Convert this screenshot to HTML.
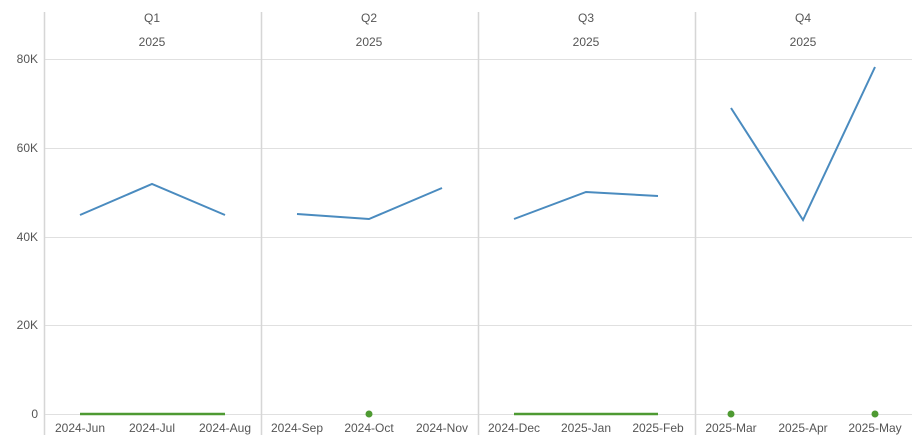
<!DOCTYPE html>
<html><head><style>body{margin:0;background:#fff}svg{display:block;font-family:"Liberation Sans","DejaVu Sans",sans-serif}</style></head>
<body>
<svg width="924" height="444" viewBox="0 0 924 444">
<g stroke="#e0e0e0" stroke-width="1">
<line x1="44" x2="912" y1="59.5" y2="59.5"/>
<line x1="44" x2="912" y1="148.5" y2="148.5"/>
<line x1="44" x2="912" y1="237.5" y2="237.5"/>
<line x1="44" x2="912" y1="325.5" y2="325.5"/>
<line x1="44" x2="912" y1="414.5" y2="414.5"/>
</g>
<g stroke="#d6d6d6" stroke-width="1.5">
<line x1="44.5" x2="44.5" y1="12" y2="435"/>
<line x1="261.5" x2="261.5" y1="12" y2="435"/>
<line x1="478.5" x2="478.5" y1="12" y2="435"/>
<line x1="695.5" x2="695.5" y1="12" y2="435"/>
</g>
<g font-size="12" fill="#555" text-anchor="end">
<text x="38" y="63">80K</text><text x="38" y="152">60K</text><text x="38" y="241">40K</text><text x="38" y="329">20K</text><text x="38" y="418">0</text>
</g>
<g font-size="12" fill="#555" text-anchor="middle">
<text x="152" y="22">Q1</text><text x="152" y="46">2025</text>
<text x="369" y="22">Q2</text><text x="369" y="46">2025</text>
<text x="586" y="22">Q3</text><text x="586" y="46">2025</text>
<text x="803" y="22">Q4</text><text x="803" y="46">2025</text>
<text x="80" y="432">2024-Jun</text><text x="152" y="432">2024-Jul</text><text x="225" y="432">2024-Aug</text>
<text x="297" y="432">2024-Sep</text><text x="369" y="432">2024-Oct</text><text x="442" y="432">2024-Nov</text>
<text x="514" y="432">2024-Dec</text><text x="586" y="432">2025-Jan</text><text x="658" y="432">2025-Feb</text>
<text x="731" y="432">2025-Mar</text><text x="803" y="432">2025-Apr</text><text x="875" y="432">2025-May</text>
</g>
<g fill="none" stroke="#4a8bbf" stroke-width="2">
<polyline points="80,215 152,184 225,215"/>
<polyline points="297,214 369,219 442,188"/>
<polyline points="514,219 586,192 658,196"/>
<polyline points="731,108 803,220 875,67"/>
</g>
<g stroke="#4e9a32" stroke-width="2.5">
<line x1="80" x2="225" y1="414" y2="414"/>
<line x1="514" x2="658" y1="414" y2="414"/>
</g>
<g fill="#4e9a32">
<circle cx="369" cy="414" r="3.5"/><circle cx="731" cy="414" r="3.5"/><circle cx="875" cy="414" r="3.5"/>
</g>
</svg>
</body></html>
